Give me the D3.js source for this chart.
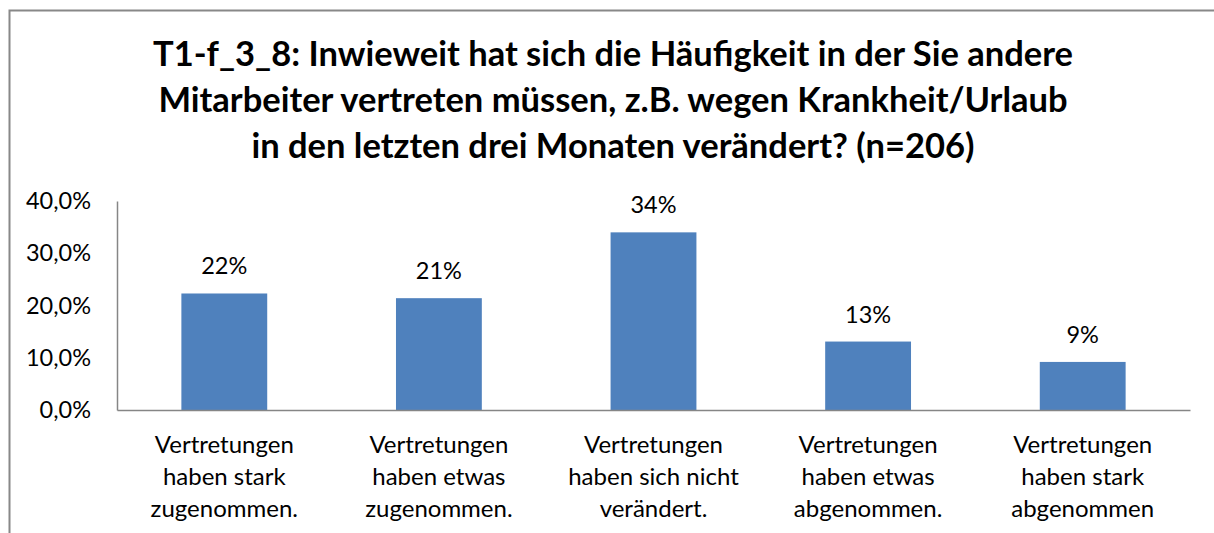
<!DOCTYPE html>
<html>
<head>
<meta charset="utf-8">
<script src="https://cdn.jsdelivr.net/npm/d3@7"></script>
<style>
  body { margin: 0; background: #fff; }
  svg text { font-family: "Lato", "Open Sans", sans-serif; fill: #000; }
</style>
</head>
<body>
<svg id="chart"></svg>
<script>
const titleLines = [
    "T1-f_3_8: Inwieweit hat sich die Häufigkeit in der Sie andere",
    "Mitarbeiter vertreten müssen, z.B. wegen Krankheit/Urlaub",
    "in den letzten drei Monaten verändert? (n=206)"
];
const categories = [
    ["Vertretungen", "haben stark", "zugenommen."],
    ["Vertretungen", "haben etwas", "zugenommen."],
    ["Vertretungen", "haben sich nicht", "verändert."],
    ["Vertretungen", "haben etwas", "abgenommen."],
    ["Vertretungen", "haben stark", "abgenommen"]
];
const values = [0.223, 0.214, 0.340, 0.131, 0.092];
const yTicks = [0, 0.1, 0.2, 0.3, 0.4];

const width = 1214, height = 533;
const svg = d3.select("#chart").attr("width", width).attr("height", height);

// outer chart border (runs off the right and bottom of the picture)
svg.append("rect")
    .attr("x", 9.5).attr("y", 10.5)
    .attr("width", 1220).attr("height", 540)
    .attr("fill", "none")
    .attr("stroke", "#888")
    .attr("stroke-width", 2);

const de = d3.formatLocale({decimal: ",", thousands: ".", grouping: [3], currency: ["", " €"]});
const tickFmt = de.format(".1%");
const labelFmt = de.format(".0%");

const keys = categories.map((c, i) => i);
const x = d3.scaleBand()
    .domain(keys)
    .range([117, 1190])
    .paddingInner(0.6)
    .paddingOuter(0.3);
const y = d3.scaleLinear()
    .domain([0, 0.4])
    .range([410, 201]);

// title
svg.append("text")
    .attr("text-anchor", "middle")
    .style("font-weight", "bold")
    .style("font-size", "34.5px")
    .selectAll("tspan")
    .data(titleLines)
    .join("tspan")
        .attr("x", 613)
        .attr("y", (d, i) => 66 + i * 46)
        .text(d => d);

// bars
svg.append("g")
    .selectAll("rect")
    .data(values)
    .join("rect")
        .attr("x", (d, i) => x(i))
        .attr("y", d => y(d))
        .attr("width", x.bandwidth())
        .attr("height", d => y(0) - y(d))
        .attr("fill", "#4f81bd");

// data labels
svg.append("g")
    .selectAll("text")
    .data(values)
    .join("text")
        .attr("x", (d, i) => x(i) + x.bandwidth() / 2)
        .attr("y", d => y(d) - 19)
        .attr("text-anchor", "middle")
        .style("font-size", "23.5px")
        .text(d => labelFmt(d));

// y axis
const yAxis = svg.append("g")
    .attr("transform", "translate(117,0)")
    .call(d3.axisLeft(y).tickValues(yTicks).tickSize(0).tickPadding(26).tickFormat(tickFmt));
yAxis.select(".domain").attr("stroke", "#868686").attr("stroke-width", 1.5);
yAxis.selectAll("text").style("font-size", "23.5px").attr("fill", "#000");

// x axis
const xAxis = svg.append("g")
    .attr("transform", "translate(0,410)")
    .call(d3.axisBottom(x).tickSize(0).tickFormat(""));
xAxis.select(".domain").attr("stroke", "#868686").attr("stroke-width", 1.5);

// category labels
svg.append("g")
    .selectAll("text")
    .data(categories)
    .join("text")
        .attr("text-anchor", "middle")
        .style("font-size", "24px")
        .each(function(lines, i) {
            d3.select(this).selectAll("tspan")
                .data(lines)
                .join("tspan")
                    .attr("x", x(i) + x.bandwidth() / 2)
                    .attr("y", (d, j) => 453 + j * 32)
                    .text(d => d);
        });
</script>
</body>
</html>
